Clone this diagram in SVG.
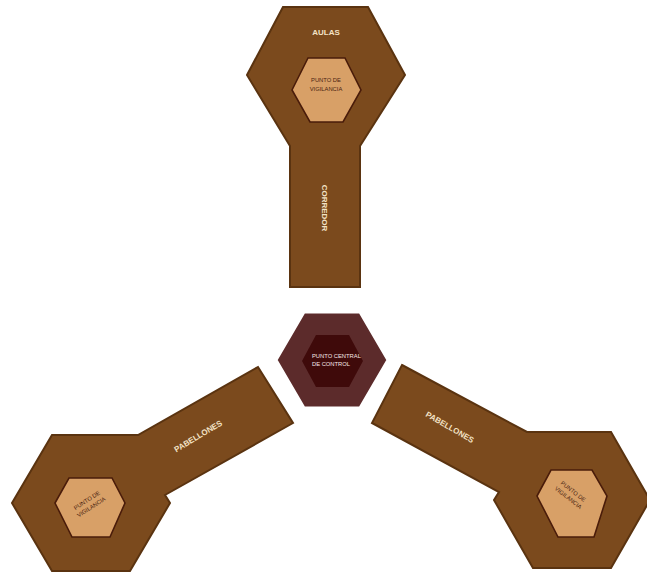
<svg xmlns="http://www.w3.org/2000/svg" width="647" height="574" viewBox="0 0 647 574">
<style>
.arm{fill:#7B4A1D;stroke:#5A3310;stroke-width:2;stroke-linejoin:miter}
.watch{fill:#D8A067;stroke:#4A1C0A;stroke-width:1.6}
.lbl{font-family:"Liberation Sans",Arial,sans-serif;fill:#F3E2C6;font-size:8px;font-weight:bold;text-anchor:middle}
.in{font-family:"Liberation Sans",Arial,sans-serif;fill:#4A2412;font-size:5.8px;text-anchor:middle}
.cen{font-family:"Liberation Sans",Arial,sans-serif;fill:#F5E6E6;font-size:5.8px}
</style>
<rect width="647" height="574" fill="#FFFFFF"/>
<g id="connectors"></g>
<g id="top-arm">
<path class="arm" d="M283,7 L368,7 L405,75 L360,146 L360,287 L290,287 L290,146 L247,75 Z"/>
<polygon class="watch" points="292,90 308,58 345,58 361,90 343,122 310,122"/>
<text class="lbl" x="326" y="35">AULAS</text>
<text class="in" x="326" y="82">PUNTO DE</text>
<text class="in" x="326" y="91">VIGILANCIA</text>
<text class="lbl" transform="translate(325,208) rotate(90)" y="3">CORREDOR</text>
</g>
<g id="center">
<polygon points="276,360 304,312 360,312 388,360 360,408 304,408" fill="#5C2B2B" stroke="#FFFFFF" stroke-width="3"/>
<polygon points="302,361 316,335 349,335 363,361 349,387 316,387" fill="#3F0A0A"/>
<text class="cen" x="312" y="358">PUNTO CENTRAL</text>
<text class="cen" x="312" y="366">DE CONTROL</text>
</g>
<g id="left-arm">
<path class="arm" d="M52,435 L138,435 L258,367 L293,423 L165,495 L170,503 L130,571 L52,571 L12,503 Z"/>
<polygon class="watch" points="55,503 69,478 112,478 125,503 110,537 72,537"/>
<text class="lbl" transform="translate(198,436) rotate(-31)" y="3">PABELLONES</text>
<g transform="translate(88,502) rotate(-33)">
<text class="in" y="0">PUNTO DE</text>
<text class="in" y="8">VIGILANCIA</text>
</g>
</g>
<g id="right-arm">
<path class="arm" d="M402,365 L527,432 L611,432 L650,500 L611,568 L533,568 L494,500 L499,492 L372,423 Z"/>
<polygon class="watch" points="537,496 551,470 592,470 607,496 594,537 558,537"/>
<text class="lbl" transform="translate(450,427) rotate(30)" y="3">PABELLONES</text>
<g transform="translate(572,493) rotate(38)">
<text class="in" y="0">PUNTO DE</text>
<text class="in" y="8">VIGILANCIA</text>
</g>
</g>
</svg>
